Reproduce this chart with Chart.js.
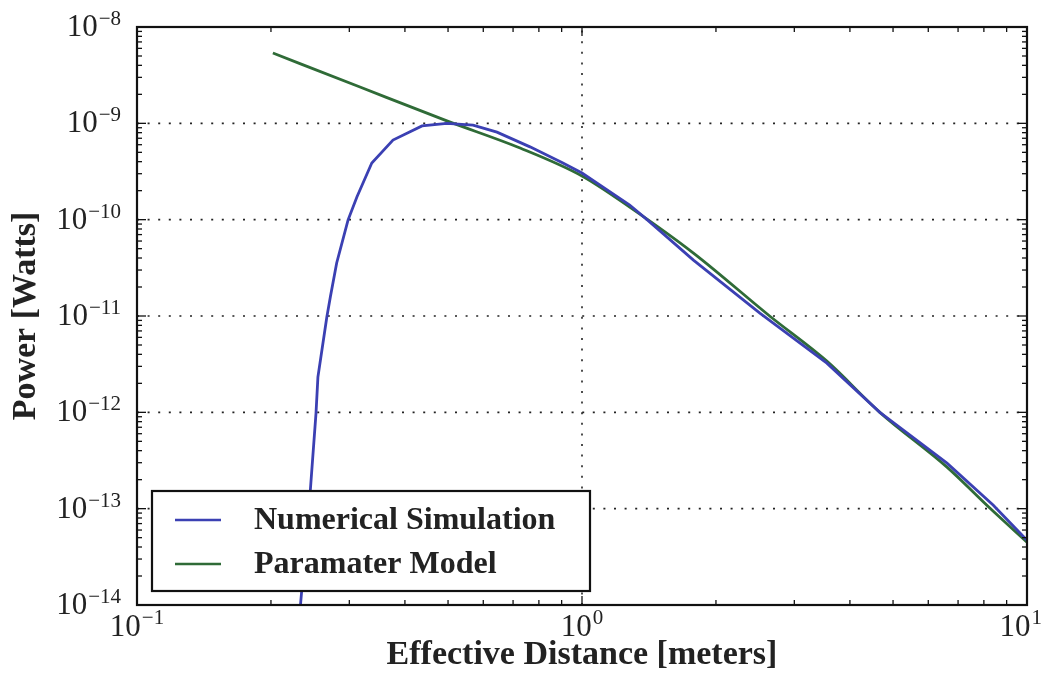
<!DOCTYPE html>
<html><head><meta charset="utf-8">
<script src="https://cdn.jsdelivr.net/npm/chart.js@4/dist/chart.umd.min.js"></script>
<style>html,body{margin:0;padding:0;background:#fff;} canvas{display:block;}</style>
</head><body>
<canvas id="c" width="1044" height="681"></canvas>
<script>
// ---- data ----
const simDistance = [0.233, 0.245, 0.2525, 0.255, 0.267, 0.272, 0.281, 0.298, 0.312, 0.337, 0.376, 0.437, 0.497, 0.569, 0.644, 0.764, 0.906, 1.0, 1.28, 1.40, 1.78, 2.51, 3.55, 4.67, 6.61, 8.39, 10];
const simPower = [1.0e-14, 1.48e-13, 9.8e-13, 2.32e-12, 9.7e-12, 1.58e-11, 3.55e-11, 9.9e-11, 1.72e-10, 3.87e-10, 6.7e-10, 9.4e-10, 1.0e-9, 9.6e-10, 8.1e-10, 5.7e-10, 3.87e-10, 3.05e-10, 1.42e-10, 1.0e-10, 3.8e-11, 1.07e-11, 3.24e-12, 1.0e-12, 2.97e-13, 1.09e-13, 4.71e-14];
const modelDistance = [0.202, 0.317, 0.497, 0.726, 1.0, 1.28, 1.78, 2.64, 3.55, 4.67, 6.61, 8.26, 10];
const modelPower = [5.37e-9, 2.38e-9, 1.06e-9, 5.54e-10, 2.84e-10, 1.35e-10, 4.5e-11, 1.0e-11, 3.4e-12, 1.0e-12, 2.7e-13, 1.01e-13, 4.49e-14];
const seriesLabels = ['Numerical Simulation', 'Paramater Model'];
const xTickExponents = [-1, 0, 1];
const yTickExponents = [-8, -9, -10, -11, -12, -13, -14];
const xTitle = 'Effective Distance [meters]';
const yTitle = 'Power [Watts]';

const FONT = '"Liberation Serif", "Times New Roman", serif';
const pts = (xs, ys) => xs.map((x, i) => ({x: x, y: ys[i]}));
const expText = e => (e < 0 ? '\u2212' + Math.abs(e) : String(e));

function seg(ctx, x1, y1, x2, y2) { ctx.beginPath(); ctx.moveTo(x1, y1); ctx.lineTo(x2, y2); ctx.stroke(); }

const decor = {
  id: 'decor',
  beforeDatasetsDraw(chart) {
    const {ctx, chartArea: a, scales: {x, y}} = chart;
    ctx.save();
    ctx.strokeStyle = '#222'; ctx.lineWidth = 1.6; ctx.setLineDash([2, 8.6]);
    for (const e of xTickExponents) {
      const p = x.getPixelForValue(Math.pow(10, e));
      if (p > a.left + 2 && p < a.right - 2) seg(ctx, p, a.bottom, p, a.top);
    }
    for (const e of yTickExponents) {
      const p = y.getPixelForValue(Math.pow(10, e));
      if (p > a.top + 2 && p < a.bottom - 2) seg(ctx, a.left, p, a.right, p);
    }
    ctx.restore();
  },
  afterDatasetsDraw(chart) {
    const {ctx, chartArea: a, scales: {x, y}} = chart;
    ctx.save();
    ctx.setLineDash([]);
    ctx.strokeStyle = '#111';
    // minor + major ticks, inward, all four sides
    ctx.lineWidth = 1.3;
    const xmin = Math.min(...xTickExponents), xmax = Math.max(...xTickExponents);
    for (let e = xmin; e < xmax; e++) {
      for (let m = 1; m <= 9; m++) {
        const p = x.getPixelForValue(m * Math.pow(10, e));
        const len = m === 1 ? 9 : 5;
        seg(ctx, p, a.bottom, p, a.bottom - len);
        seg(ctx, p, a.top, p, a.top + len);
      }
    }
    const ymin = Math.min(...yTickExponents), ymax = Math.max(...yTickExponents);
    for (let e = ymin; e < ymax; e++) {
      for (let m = 1; m <= 9; m++) {
        const p = y.getPixelForValue(m * Math.pow(10, e));
        const len = m === 1 ? 9 : 5;
        seg(ctx, a.left, p, a.left + len, p);
        seg(ctx, a.right, p, a.right - len, p);
      }
    }
    // frame
    ctx.lineWidth = 2.2;
    ctx.strokeRect(a.left, a.top, a.right - a.left, a.bottom - a.top);

    // tick labels (10 with superscript exponent)
    ctx.fillStyle = '#222';
    ctx.textBaseline = 'alphabetic';
    ctx.textAlign = 'left';
    const big = '31px ' + FONT, small = '21px ' + FONT;
    for (const e of yTickExponents) {
      const p = y.getPixelForValue(Math.pow(10, e));
      ctx.font = small; const we = ctx.measureText(expText(e)).width;
      ctx.font = big; const wb = ctx.measureText('10').width;
      const right = a.left - 16;
      ctx.font = big; ctx.fillText('10', right - we - wb - 1, p + 9);
      ctx.font = small; ctx.fillText(expText(e), right - we, p - 2);
    }
    for (const e of xTickExponents) {
      const p = x.getPixelForValue(Math.pow(10, e));
      ctx.font = small; const we = ctx.measureText(expText(e)).width;
      ctx.font = big; const wb = ctx.measureText('10').width;
      let left = p - (wb + we + 1) / 2;
      left = Math.min(left, chart.width - (wb + we + 3));
      ctx.font = big; ctx.fillText('10', left, a.bottom + 31);
      ctx.font = small; ctx.fillText(expText(e), left + wb + 1, a.bottom + 19);
    }

    // legend box inside the plot
    const bx = a.left + 15, bw = 438, bh = 100, by = a.bottom - 14 - bh;
    ctx.fillStyle = '#fff';
    ctx.fillRect(bx, by, bw, bh);
    ctx.lineWidth = 2.2; ctx.strokeStyle = '#111';
    ctx.strokeRect(bx, by, bw, bh);
    ctx.font = 'bold 32px ' + FONT;
    ctx.textBaseline = 'middle';
    chart.data.datasets.forEach((ds, i) => {
      const cy = by + 29 + i * 44;
      ctx.strokeStyle = ds.borderColor; ctx.lineWidth = 2.6;
      seg(ctx, bx + 23, cy, bx + 69, cy);
      ctx.fillStyle = '#222';
      ctx.fillText(ds.label, bx + 102, cy + 1);
    });
    ctx.restore();
  }
};

new Chart(document.getElementById('c'), {
  type: 'line',
  data: {
    datasets: [
      {label: seriesLabels[0], data: pts(simDistance, simPower), borderColor: '#3b40b3', borderWidth: 2.8, pointRadius: 0, tension: 0, fill: false},
      {label: seriesLabels[1], data: pts(modelDistance, modelPower), borderColor: '#2f6b37', borderWidth: 2.8, pointRadius: 0, cubicInterpolationMode: 'monotone', fill: false}
    ]
  },
  options: {
    responsive: false,
    animation: false,
    devicePixelRatio: 1,
    layout: {padding: {left: 0, top: 27, right: 17, bottom: 0}},
    plugins: {legend: {display: false}, tooltip: {enabled: false}},
    scales: {
      x: {
        type: 'logarithmic', position: 'bottom',
        min: Math.pow(10, Math.min(...xTickExponents)), max: Math.pow(10, Math.max(...xTickExponents)),
        ticks: {display: false}, grid: {display: false}, border: {display: false},
        title: {display: true, text: xTitle, color: '#222', font: {family: FONT, size: 34, weight: 'bold', lineHeight: 1}, padding: {top: 0, bottom: 9}},
        afterFit: s => { s.height = 76; }
      },
      y: {
        type: 'logarithmic', position: 'left',
        min: Math.pow(10, Math.min(...yTickExponents)), max: Math.pow(10, Math.max(...yTickExponents)),
        ticks: {display: false}, grid: {display: false}, border: {display: false},
        title: {display: true, text: yTitle, color: '#222', font: {family: FONT, size: 34, weight: 'bold', lineHeight: 1}, padding: {top: 9, bottom: 0}},
        afterFit: s => { s.width = 137; }
      }
    }
  },
  plugins: [decor]
});
</script>
</body></html>
